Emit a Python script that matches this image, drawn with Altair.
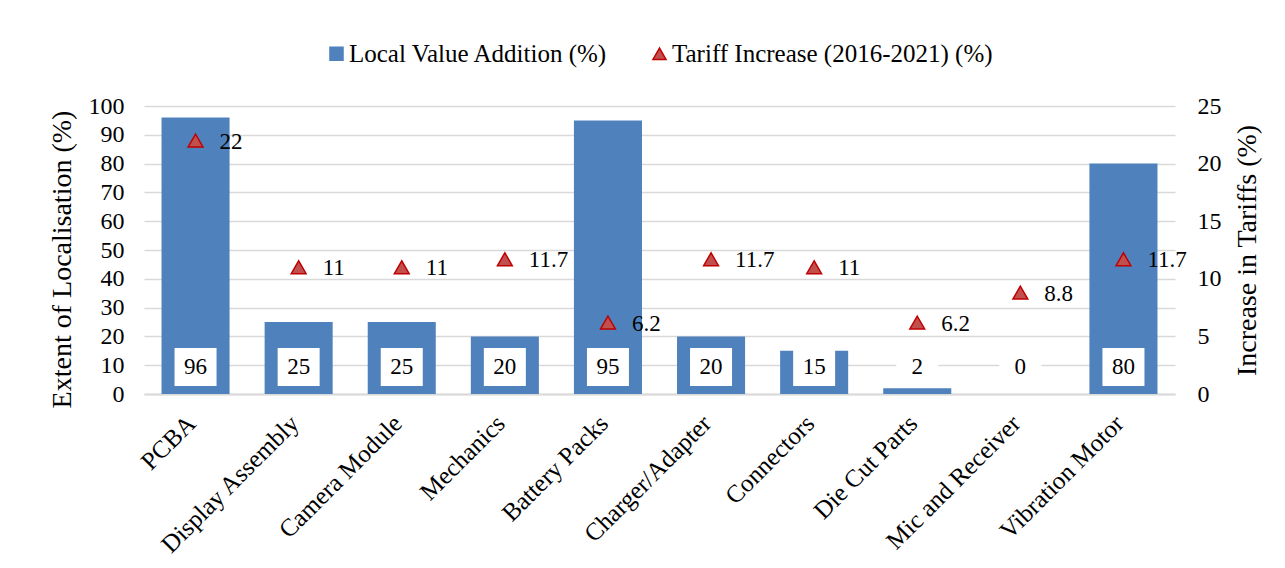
import altair as alt
import pandas as pd

categories = ["PCBA", "Display Assembly", "Camera Module", "Mechanics", "Battery Packs",
              "Charger/Adapter", "Connectors", "Die Cut Parts", "Mic and Receiver", "Vibration Motor"]
local_value = [96, 25, 25, 20, 95, 20, 15, 2, 0, 80]
tariff_increase = [22, 11, 11, 11.7, 6.2, 11.7, 11, 6.2, 8.8, 11.7]

S1 = "Local Value Addition (%)"
S2 = "Tariff Increase (2016-2021) (%)"
BLUE = "#4F81BD"
RED_FILL = "#C0504D"
RED_STROKE = "#C00000"
FONT = "Liberation Serif"

df = pd.DataFrame({"category": categories, "local": local_value, "tariff": tariff_increase})

x_enc = alt.X("category:N", sort=categories, title=None,
              scale=alt.Scale(paddingInner=0.34, paddingOuter=0.17),
              axis=alt.Axis(labelAngle=-45, labelAlign="right", labelBaseline="middle",
                            labelPadding=25, labelOffset=-4, ticks=False, domainColor="#D9D9D9",
                            domainWidth=2, labelFontSize=25, labelColor="#000000", labelLimit=400))

color_scale = alt.Scale(domain=[S1, S2], range=[BLUE, RED_FILL])
stroke_scale = alt.Scale(domain=[S1, S2], range=[BLUE, RED_STROKE])
shape_scale = alt.Scale(domain=[S1, S2], range=["square", "triangle-up"])
legend = alt.Legend(title=None, orient="none", legendX=180, legendY=-65, direction="horizontal",
                    labelFont=FONT, labelFontSize=25, labelColor="#000000", symbolSize=170,
                    columnPadding=39, labelOffset=0, labelLimit=600, symbolStrokeWidth=1.5)

left_scale = alt.Scale(domain=[0, 100])
right_scale = alt.Scale(domain=[0, 25])

left_axis = alt.Axis(values=list(range(0, 101, 10)), ticks=False, domain=False,
                     gridColor="#D9D9D9", gridWidth=1.5, labelPadding=20,
                     labelFontSize=24, titleFontSize=28, titlePadding=12, titleY=153,
                     labelColor="#000000", titleColor="#000000", titleFontWeight="normal")
right_axis = alt.Axis(orient="right", values=[0, 5, 10, 15, 20, 25], grid=False, ticks=False,
                      domain=False, labelPadding=22, labelFontSize=24, titleFontSize=28,
                      titlePadding=12, titleAngle=270, titleBaseline="top", labelColor="#000000",
                      titleColor="#000000", titleFontWeight="normal")

base = alt.Chart(df)

bars = base.mark_bar().transform_calculate(series=f"'{S1}'").encode(
    x=x_enc,
    y=alt.Y("local:Q", scale=left_scale, title="Extent of Localisation (%)", axis=left_axis),
    color=alt.Color("series:N", scale=color_scale, legend=legend),
)

boxes = base.mark_bar(width=42, color="white").encode(
    x=alt.X("category:N", sort=categories),
    y=alt.Y(datum=2.8, scale=left_scale, title="Extent of Localisation (%)", axis=left_axis),
    y2=alt.Y2(datum=16.0),
)

box_text = base.mark_text(font=FONT, fontSize=23, color="#000000", baseline="middle").encode(
    x=alt.X("category:N", sort=categories),
    y=alt.Y(datum=9.4, scale=left_scale, title="Extent of Localisation (%)", axis=left_axis),
    text=alt.Text("local:Q"),
)

left = alt.layer(bars, boxes, box_text)

points = base.mark_point(filled=True, size=220, strokeWidth=1.5, opacity=1).transform_calculate(
    series=f"'{S2}'").encode(
    x=alt.X("category:N", sort=categories),
    y=alt.Y("tariff:Q", scale=right_scale, title="Increase in Tariffs (%)", axis=right_axis),
    color=alt.Color("series:N", scale=color_scale, legend=legend),
    stroke=alt.Stroke("series:N", scale=stroke_scale, legend=legend),
    shape=alt.Shape("series:N", scale=shape_scale, legend=legend),
)

point_text = base.mark_text(font=FONT, fontSize=23, color="#000000", align="left",
                            baseline="middle", dx=24, dy=1).encode(
    x=alt.X("category:N", sort=categories),
    y=alt.Y("tariff:Q", scale=right_scale, title="Increase in Tariffs (%)", axis=right_axis),
    text=alt.Text("tariff:Q"),
)

right = alt.layer(points, point_text)

chart = alt.layer(left, right).resolve_scale(y="independent").properties(
    width=1031, height=288,
    autosize=alt.AutoSizeParams(type="none"),
    padding={"left": 136, "top": 98, "right": 100, "bottom": 164},
).configure(font=FONT).configure_axis(
    labelFont=FONT, titleFont=FONT
).configure_view(stroke=None)

chart.save("out.html", embed_options={"renderer": "svg", "actions": False})
